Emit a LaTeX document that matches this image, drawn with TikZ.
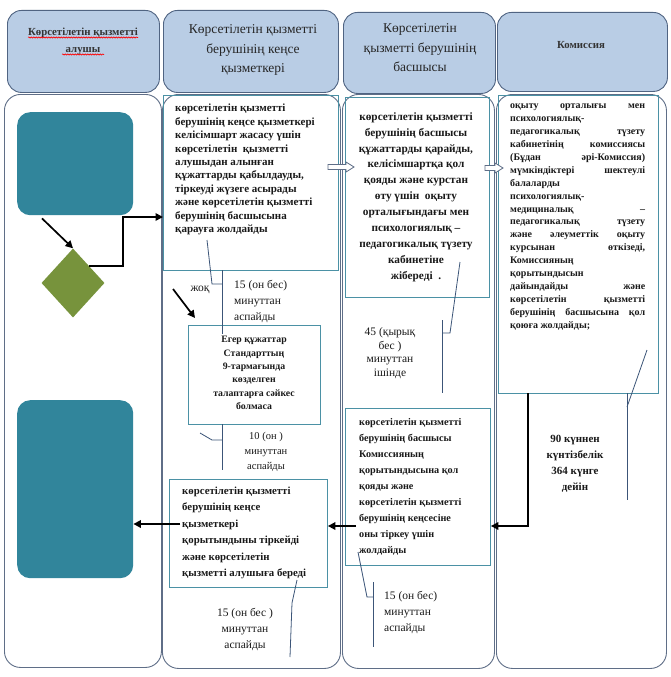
\documentclass[tikz,border=0pt]{standalone}
\usepackage{fontspec}
\setmainfont{Liberation Serif}
\usetikzlibrary{shapes.geometric,arrows.meta,calc,decorations.pathmorphing}
\definecolor{headF}{RGB}{185,205,229}
\definecolor{headC}{RGB}{80,100,130}
\definecolor{laneC}{RGB}{95,110,135}
\definecolor{boxC}{RGB}{75,145,165}
\definecolor{tealF}{RGB}{49,133,155}
\definecolor{diamC}{RGB}{119,147,60}
\definecolor{callC}{RGB}{60,85,120}
\newcommand\jl[1]{\makebox[135pt][s]{#1}}
\begin{document}
\begin{tikzpicture}[x=1pt,y=-1pt,
  lane/.style={draw=laneC, line width=0.9pt, rounded corners=16pt, fill=white, inner sep=0pt, anchor=north west},
  head/.style={draw=headC, fill=headF, line width=0.9pt, rounded corners=14pt, inner sep=0pt, anchor=north west},
  tbox/.style={draw=boxC, line width=0.9pt, inner sep=0pt, anchor=north west},
  tealbox/.style={fill=tealF, rounded corners=13pt, inner sep=0pt, anchor=north west},
  flow/.style={draw=black, line width=1.7pt, -{Triangle[length=7.5pt,width=7.5pt]}},
  callout/.style={draw=callC, line width=0.8pt},
  hollow/.style={draw=laneC, fill=white, line width=0.8pt},
  htxt/.style={font=\fontsize{13.5}{19.5}\selectfont, align=center, inner sep=0pt, text=black!85},
  btxt/.style={font=\bfseries\fontsize{11}{13.4}\selectfont, inner sep=0pt, text=black!90},
  stxt/.style={font=\fontsize{11.5}{16}\selectfont, inner sep=0pt, text=black!90}
]
\useasboundingbox (0,0) rectangle (670,677);
% headers
\node[head, minimum width=152pt, minimum height=82pt] (h1) at (7,10) {};
\node[head, minimum width=175pt, minimum height=82pt] (h2) at (163,10) {};
\node[head, minimum width=152pt, minimum height=81pt] (h3) at (343,12) {};
\node[head, minimum width=170pt, minimum height=79pt] (h4) at (497,12) {};
\node[font=\bfseries\fontsize{10.8}{17}\selectfont, align=center, inner sep=0pt, text=black!80] (h1t) at (83,41) {Көрсетілетін қызметті\\алушы};
\draw[red, line width=0.6pt, decorate, decoration={snake, amplitude=0.6pt, segment length=2.5pt}] (28,37.5) -- (138,37.5);
\draw[red, line width=0.6pt, decorate, decoration={snake, amplitude=0.6pt, segment length=2.5pt}] (62,54.5) -- (104,54.5);
\node[htxt] (h2t) at (253,50) {Көрсетілетін қызметті\\берушінің кеңсе\\қызметкері};
\node[htxt] (h3t) at (420,48) {Көрсетілетін\\қызметті берушінің\\басшысы};
\node[font=\bfseries\fontsize{10.8}{12}\selectfont, inner sep=0pt, text=black!80] (h4t) at (581,45) {Комиссия};
% lanes
\node[lane, minimum width=157pt, minimum height=573pt] (l1) at (4,94) {};
\node[lane, minimum width=178pt, minimum height=574pt] (l2) at (162,94) {};
\node[lane, minimum width=152pt, minimum height=574pt] (l3) at (342,94) {};
\node[lane, minimum width=170pt, minimum height=574pt] (l4) at (496,94) {};
% inner boxes
\node[tbox, minimum width=175pt, minimum height=175pt] (b1) at (163,95) {};
\node[tbox, minimum width=144pt, minimum height=200pt] (b2) at (345,97) {};
\node[tbox, minimum width=160pt, minimum height=298pt] (b3) at (498,95) {};
\node[tbox, minimum width=132pt, minimum height=99pt] (b4) at (188,325) {};
\node[tbox, minimum width=145pt, minimum height=157pt] (b5) at (345,408) {};
\node[tbox, minimum width=158pt, minimum height=108pt] (b6) at (169,479) {};
% lane 1 shapes
\node[tealbox, minimum width=116pt, minimum height=103pt] (t1) at (17,112) {};
\node[tealbox, minimum width=116pt, minimum height=178pt] (t2) at (17,400) {};
\node[diamond, fill=diamC, inner sep=0pt, minimum width=63pt, minimum height=69pt] (d) at (73,283) {};
% texts
\node[btxt, align=left, anchor=west] (x1) at (175,169.5) {көрсетілетін қызметті\\берушінің кеңсе қызметкері\\келісімшарт жасасу үшін\\көрсетілетін\ \ қызметті\\алушыдан алынған\\құжаттарды қабылдауды,\\тіркеуді жүзеге асырады\\және көрсетілетін қызметті\\берушінің басшысына\\қарауға жолдайды};
\node[btxt, align=center, font=\bfseries\fontsize{11.3}{15.9}\selectfont] (x2) at (416,197) {көрсетілетін қызметті\\берушінің басшысы\\құжаттарды қарайды,\\келісімшартқа қол\\қояды және курстан\\өту үшін\ \ оқыту\\орталығындағы мен\\психологиялық –\\педагогикалық түзету\\кабинетіне\\жібереді\ \ .};
\node[btxt, align=left, font=\bfseries\fontsize{10}{12.9}\selectfont, anchor=west] (x3) at (510,217) {\jl{оқыту орталығы мен}\\\jl{психологиялық-}\\\jl{педагогикалық түзету}\\\jl{кабинетінің комиссиясы}\\\jl{(Бұдан әрі-Комиссия)}\\\jl{мүмкіндіктері шектеулі}\\\jl{балаларды}\\\jl{психологиялық-}\\\jl{медициналық –}\\\jl{педагогикалық түзету}\\\jl{және әлеуметтік оқыту}\\\jl{курсынан өткізеді,}\\\jl{Комиссияның}\\\jl{қорытындысын}\\\jl{дайындайды және}\\\jl{көрсетілетін қызметті}\\\jl{берушінің басшысына қол}\\қоюға жолдайды;};
\node[btxt, align=center, font=\bfseries\fontsize{9.8}{13.4}\selectfont] (x4) at (254,373) {Егер құжаттар\\Стандарттың\\9-тармағында\\көзделген\\талаптарға сәйкес\\болмаса};
\node[btxt, align=left, font=\bfseries\fontsize{10.2}{16}\selectfont, anchor=west] (x5) at (359,487) {көрсетілетін қызметті\\берушінің басшысы\\Комиссияның\\қорытындысына қол\\қояды және\\көрсетілетін қызметті\\берушінің кеңсесіне\\оны тіркеу үшін\\жолдайды};
\node[btxt, align=left, font=\bfseries\fontsize{10.8}{16.4}\selectfont, anchor=west] (x6) at (182,533) {көрсетілетін қызметті\\берушінің кеңсе\\қызметкері\\қорытындыны тіркейді\\және көрсетілетін\\қызметті алушыға береді};
% time labels
\node[stxt, align=left, anchor=west] (n1) at (234,301) {15 (он бес)\\минуттан\\аспайды};
\node[stxt, align=center, font=\fontsize{10.5}{15}\selectfont] (n2) at (266,452) {10 (он )\\минуттан\\аспайды};
\node[stxt, align=center, font=\fontsize{11.5}{13.5}\selectfont] (n3) at (390,353) {45 (қырық\\бес )\\минуттан\\ішінде};
\node[stxt, align=center, font=\bfseries\fontsize{11}{16}\selectfont] (n4) at (575,464) {90 күннен\\күнтізбелік\\364 күнге\\дейін};
\node[stxt, align=left, anchor=west] (n5) at (384,612) {15 (он бес)\\минуттан\\аспайды};
\node[stxt, align=center] (n6) at (245,629) {15 (он бес )\\минуттан\\аспайды};
\node[stxt] (no) at (200,290) {жоқ};
% callout lines
\draw[callout] (207,240) -- (212,284) -- (222,284);
\draw[callout] (222,270) -- (222,334);
\draw[callout] (222,424) -- (222,470);
\draw[callout] (200,433) -- (212,440) -- (222,440);
\draw[callout] (460,262) -- (450,333) -- (442,333);
\draw[callout] (442,320) -- (442,393);
\draw[callout] (647,350) -- (627,407);
\draw[callout] (627,393) -- (627,500);
\draw[callout] (358,552) -- (367,597) -- (373,597);
\draw[callout] (373,582) -- (373,647);
\draw[callout] (297,580) -- (292,603) -- (290,657);
% hollow arrows
\draw[hollow] (328,164.5) -- (346,164.5) -- (346,162) -- (354,167) -- (346,172) -- (346,169.5) -- (328,169.5) -- cycle;
\draw[hollow] (485,165.5) -- (495,165.5) -- (495,163) -- (503,168) -- (495,173) -- (495,170.5) -- (485,170.5) -- cycle;
% flow arrows
\coordinate (bend) at (123,217);
\coordinate (s6) at (180,524);
\coordinate (s5) at (356,526);
\coordinate (s3) at (528,393);
\coordinate (ns) at (173,289);
\draw[flow] ($(t1.south west)+(25,3)$) -- (d.north);
\draw[flow] (d.north east) -| (bend) -- (b1.west |- bend);
\draw[flow] (s6) -- (t2.east |- s6);
\draw[flow] (s5) -- (b6.east |- s5);
\draw[flow] (s3) |- (b5.east |- 0,526);
\draw[flow] (ns) -- ($(b4.north west)+(7,-7)$);
\end{tikzpicture}
\end{document}
